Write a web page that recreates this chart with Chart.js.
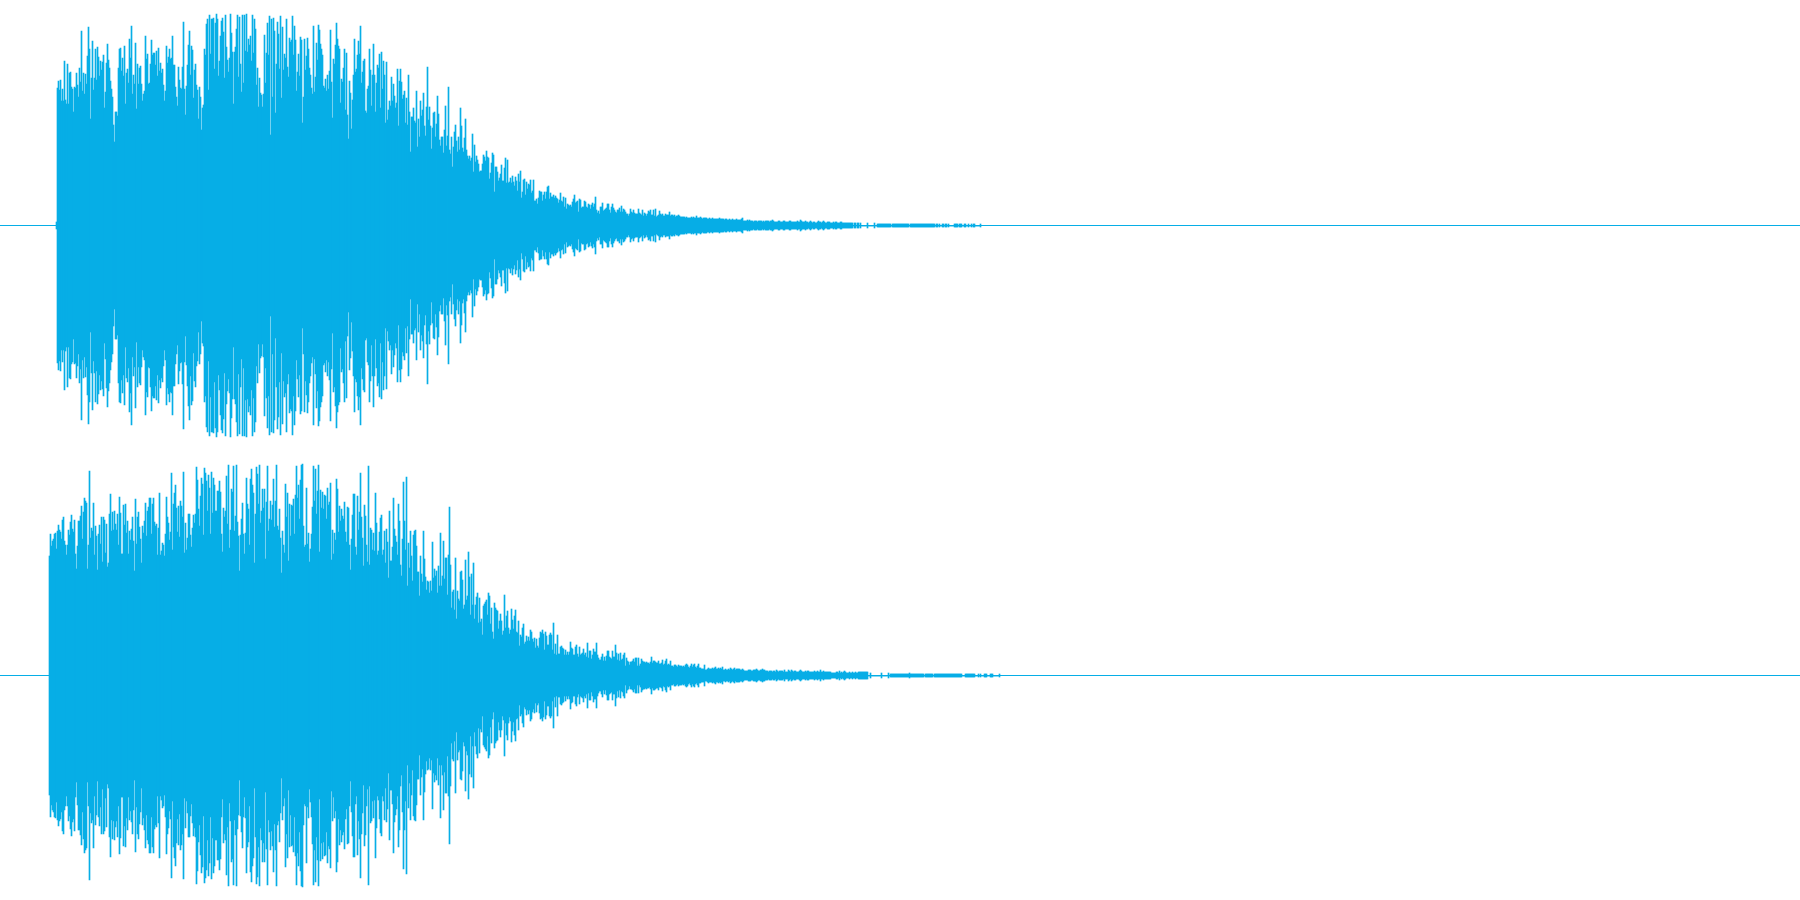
<!DOCTYPE html>
<html>
<head>
<meta charset="utf-8">
<title>Waveform</title>
<script src="https://cdn.jsdelivr.net/npm/chart.js@4"></script>
<style>
	html, body { margin: 0; padding: 0; background: #fff; overflow: hidden; }
	canvas { display: block; }
</style>
</head>
<body>
<canvas id="channel1" width="1800" height="450"></canvas>
<canvas id="channel2" width="1800" height="450"></canvas>
<script>
//Time (one unit per column) where each channel's first column sits
const channel1Start = 56;
const channel2Start = 49;
const timeEnd = 1800;
const fullScale = 225;
const waveColor = '#07aee6';

//Peak amplitude of each column. The wave is mirrored round zero.
const channel1 = [
	3,
	137,144,135,145,124,136,124,164,125,121,161,121,152,153,138,136,113,138,137,152,140,128,157,143,194,134,152,131,151,141,169,198,176,106,147,184,135,147,176,145,
	178,168,149,164,155,163,170,117,133,162,181,165,157,144,136,128,100,83,113,113,109,157,176,177,154,167,149,179,121,152,156,142,186,167,199,131,150,141,182,116,
	161,141,157,159,141,124,131,134,189,166,171,141,142,161,185,170,172,172,160,174,149,177,154,162,152,156,140,124,134,179,162,168,176,166,167,189,160,160,138,128,
	119,158,145,137,136,158,203,136,110,139,160,180,194,150,179,175,127,155,161,140,135,106,138,128,95,117,120,176,170,201,206,135,210,171,206,206,207,156,202,211,
	206,149,164,189,204,207,193,147,210,178,165,153,167,211,192,173,121,173,178,196,210,148,208,161,133,210,142,210,174,211,173,186,180,189,164,210,172,206,196,140,
	157,118,147,132,130,118,131,190,142,172,202,170,209,90,206,128,207,194,112,161,203,191,156,209,127,198,155,171,167,206,158,148,187,183,185,209,170,199,185,134,
	153,171,149,188,185,102,128,186,155,169,187,176,157,150,137,131,199,133,148,182,165,200,195,181,176,170,139,137,146,134,150,136,154,
	195,143,107,166,161,180,202,186,179,176,122,146,143,157,176,115,172,110,86,144,132,96,125,150,186,153,156,170,184,171,199,142,153,164,166,114,112,136,139,176,
	155,119,150,181,150,113,142,160,157,171,117,173,136,164,150,102,163,105,115,124,119,148,124,141,129,117,122,156,99,144,156,143,126,130,134,102,127,100,150,113,
	73,108,108,117,104,102,134,78,106,88,124,109,115,132,99,89,118,158,105,118,99,76,97,112,113,88,101,129,111,85,79,88,88,72,95,119,79,89,138,75,
	71,88,58,78,93,100,84,73,88,75,117,99,77,73,87,106,75,69,66,69,64,67,91,53,80,63,69,65,61,53,54,54,61,70,68,64,74,68,67,46,
	52,62,72,70,33,58,58,53,44,47,51,60,44,44,57,67,42,65,42,43,47,42,49,43,39,48,44,34,51,43,54,27,33,45,46,30,43,36,41,40,
	45,32,34,45,24,24,26,21,27,34,33,33,24,30,33,26,33,38,39,26,32,28,28,30,27,29,27,26,22,25,32,24,23,28,18,27,16,21,20,19,
	20,18,23,26,30,22,23,24,13,26,25,17,18,18,24,23,18,17,21,20,16,20,22,18,21,28,15,12,14,11,18,18,22,14,15,16,17,21,21,15,
	12,18,21,17,15,13,12,15,15,17,13,19,13,16,15,13,11,11,9,11,
	16,13,12,15,12,11,11,11,16,12,11,10,15,9,12,11,9,11,14,13,15,10,10,15,9,16,8,9,10,14,11,10,11,9,9,11,10,10,10,13,
	9,10,10,9,10,8,9,9,10,9,
	8,8,8,8,8,7,8,7,7,7,7,8,7,8,7,7,9,7,7,7,8,7,6,7,7,7,7,6,6,7,6,6,7,6,6,6,
	6,6,6,7,6,6,6,6,5,6,6,5,5,6,5,5,6,5,5,5,6,5,5,5,5,6,7,
	4,4,4,4,5,4,5,4,4,4,3,4,4,4,3,4,4,4,4,3,4,3,4,4,4,4,3,4,4,5,4,3,3,3,3,4,4,3,3,3,
	4,4,3,3,3,3,4,4,3,3,3,3,3,3,4,3,3,5,4,3,3,3,4,3,3,2,3,4,3,2,3,3,2,2,3,4,3,3,2,3,
	4,3,2,2,3,3,3,
	2,2,2,3,2,3,3,2,2,2,3,3,2,2,2,2,2,2,2,2,2,2,2,
	0,2,2,0,2,2,0,2,0,0,0,0,0,0,2,0,0,0,0,0,0,2,0,0,
	1,1,1,1,1,1,1,1,1,1,1,1,1,1,0,1,1,1,1,1,1,1,1,1,1,1,1,1,1,1,1,1,0,
	1,1,1,1,1,1,1,1,1,1,1,1,1,1,1,1,1,1,1,1,1,1,1,1,1,0,
	1,1,0,1,0,0,1,1,0,1,1,0,1,0,0,0,0,0,1,1,1,1,0,1,1,1,0,0,1,1,0,0,1,0,0,1,0,1,1,0,0,0,0,0,1
];

const channel2 = [
	119,141,129,134,136,141,142,126,144,150,145,143,136,155,158,134,130,120,130,145,140,153,160,146,143,155,121,106,129,154,154,159,169,136,163,177,174,172,106,130,
	204,137,147,144,172,120,149,139,105,141,150,131,158,113,158,155,122,151,108,112,161,181,144,163,145,164,151,145,161,130,178,162,121,121,170,150,171,142,154,121,
	144,135,146,158,134,104,176,131,158,163,148,136,112,149,142,154,172,139,164,168,177,177,141,171,177,153,149,151,120,147,182,120,124,132,130,119,141,178,158,152,
	135,143,202,125,171,182,190,167,143,169,138,174,169,158,203,122,152,125,137,161,161,140,128,147,160,152,161,208,195,166,149,179,197,191,140,207,202,194,164,200,
	187,141,203,162,197,190,164,164,184,184,194,183,141,123,167,158,164,199,151,210,127,145,186,183,209,144,159,210,153,139,104,140,156,172,141,121,142,197,171,166,
	130,196,206,190,182,112,161,208,201,171,210,152,164,186,167,186,116,173,209,144,156,174,155,170,196,148,174,210,149,145,166,137,102,144,130,122,191,158,182,114,
	171,139,170,169,176,141,180,209,177,190,156,195,210,211,149,128,130,187,131,142,113,126,141,168,209,174,206,161,184,210,123,185,167,183,166,180,179,156,187,170,173,
	192,115,145,121,142,135,196,186,143,169,154,166,159,156,173,143,133,168,167,130,105,136,160,181,181,128,120,179,145,163,202,158,137,109,170,159,130,113,209,110,
	147,145,125,142,124,182,152,120,124,143,157,160,120,125,144,112,146,133,97,164,114,114,128,177,146,139,133,120,171,154,110,99,136,193,154,125,198,89,132,107,
	144,119,94,140,144,145,129,103,103,79,119,101,93,144,116,98,85,94,93,82,94,84,133,97,106,99,104,82,109,89,142,89,99,134,96,117,117,80,120,168,
	110,67,83,85,65,117,56,84,76,74,103,104,95,66,70,115,75,79,123,98,60,101,70,112,56,70,78,82,52,77,53,56,40,69,71,73,75,60,82,79,
	51,67,43,36,72,67,65,64,46,54,61,54,40,44,80,47,59,64,47,41,45,66,55,46,59,65,43,42,54,29,40,38,47,51,31,33,39,34,38,34,
	45,43,36,33,37,27,36,29,27,37,43,42,45,41,25,43,39,30,30,40,42,40,25,52,21,31,20,40,21,21,28,29,27,26,20,25,20,23,20,23,
	33,27,26,20,20,28,30,21,18,28,20,21,22,26,20,22,18,32,17,24,24,16,20,26,23,23,32,20,17,15,15,18,21,14,18,14,19,24,24,18,
	17,16,24,18,18,30,22,15,21,14,22,15,16,20,22,9,17,14,13,10,
	13,13,14,16,13,17,17,9,17,9,11,16,14,13,13,12,13,12,12,11,13,18,12,14,14,13,12,12,14,11,11,12,15,10,11,14,16,10,11,10,
	14,9,9,8,10,10,9,8,10,9,9,9,8,9,8,10,11,10,8,7,9,11,8,10,11,8,7,9,11,7,7,6,
	6,6,10,5,5,6,7,6,6,6,7,6,7,8,6,6,7,6,7,6,8,5,5,6,5,5,6,5,7,6,5,6,7,5,6,6,6,6,5,5,6,5,4,
	4,4,4,5,5,5,4,4,5,5,5,6,5,4,4,5,5,6,5,5,4,4,4,3,4,4,4,3,4,4,3,5,4,3,4,4,4,4,3,5,
	3,3,3,5,4,3,5,4,3,4,4,3,3,3,4,5,4,3,3,3,4,3,4,4,3,3,3,3,3,4,3,3,4,3,3,5,3,3,4,3,3,3,3,3,3,
	3,2,2,2,2,2,3,3,2,4,2,3,2,3,4,3,2,2,2,3,2,2,3,2,2,3,2,2,3,3,3,3,3,3,3,3,3,3,
	0,0,2,0,0,0,0,0,0,0,0,0,0,2,0,0,0,0,0,0,2,0,
	1,1,1,1,1,1,1,1,1,1,1,1,1,1,1,1,1,1,1,2,1,1,1,1,1,1,1,1,1,1,1,1,1,1,0,
	1,1,1,1,1,1,1,1,0,1,1,1,1,1,1,1,1,1,1,1,1,1,1,1,1,1,1,1,1,1,1,1,1,1,1,1,1,0,0,0,
	1,1,1,1,1,1,1,1,1,1,0,0,0,1,0,1,0,0,0,1,1,1,0,0,0,1,1,1,0,0,0,0,0,0,1
];

function makeChart(id, start, amps)	{
	const ctx = document.getElementById(id).getContext('2d');
	return new Chart(ctx, {
		type: 'bar',
		data: {
			datasets: [{
				backgroundColor: waveColor,
				borderWidth: 0,
				barPercentage: 1,
				categoryPercentage: 1,
				//-a - 1 keeps the wave mirrored round the one pixel zero line
				data: amps.map((a, i) => ({ x: start + i + 0.5, y: [-a - 1, a] }))
			}]
		},
		options: {
			responsive: false,
			animation: false,
			events: [],
			layout: { padding: 0 },
			plugins: {
				legend: { display: false },
				tooltip: { enabled: false }
			},
			scales: {
				x: {
					type: 'linear',
					min: 0,
					max: timeEnd,
					offset: false,
					display: false
				},
				y: {
					min: -fullScale,
					max: fullScale,
					border: { display: false },
					ticks: { display: false, stepSize: fullScale },
					grid: {
						drawTicks: false,
						color: (c) => c.tick.value === 0 ? waveColor : 'transparent'
					}
				}
			}
		}
	});
}

makeChart('channel1', channel1Start, channel1);
makeChart('channel2', channel2Start, channel2);
</script>
</body>
</html>
